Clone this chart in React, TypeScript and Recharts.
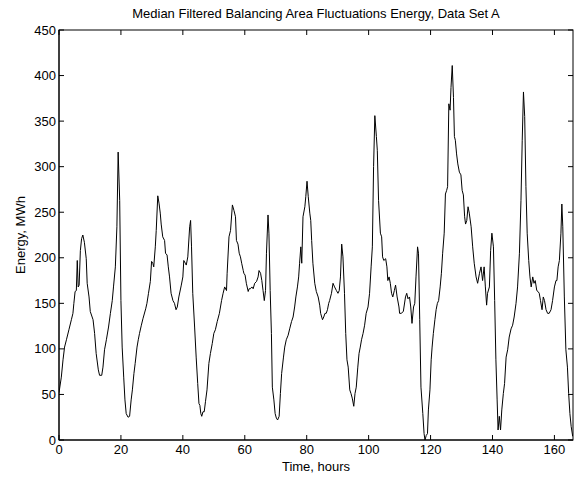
import { LineChart, Line, XAxis, YAxis } from 'recharts';

// hours since start of the record
const HOURS = [
  0.0, 0.75, 1.3, 1.8, 2.4, 3.2, 4.0, 4.5, 4.8, 5.2, 5.6, 5.9, 6.2, 6.5, 6.9, 7.3, 7.7, 8.2, 8.8, 9.1,
  9.7, 10.1, 11.0, 11.5, 12.0, 12.7, 13.1, 13.8, 14.2, 14.7, 15.3, 16.0, 16.6, 17.2, 17.6, 18.2, 18.7, 19.1, 19.6, 20.0,
  20.4, 20.9, 21.3, 21.7, 22.3, 22.8, 23.3, 23.7, 24.2, 24.6, 25.2, 25.6, 26.0, 26.6, 27.1, 28.0, 28.4, 28.9, 29.5, 29.9,
  30.3, 30.6, 31.1, 31.4, 31.9, 32.3, 32.7, 33.0, 33.5, 34.1, 34.4, 34.9, 35.3, 35.7, 36.2, 36.8, 37.3, 37.8, 38.2, 38.7,
  39.5, 40.0, 40.3, 40.8, 41.1, 41.6, 42.2, 42.5, 42.8, 43.2, 43.8, 44.3, 44.8, 45.2, 45.5, 45.8, 46.1, 46.5, 46.9, 47.3,
  47.8, 48.4, 48.9, 49.5, 50.0, 50.5, 51.1, 51.8, 52.5, 53.0, 53.5, 54.1, 54.3, 54.9, 55.4, 56.0, 56.5, 57.0, 57.3, 57.8,
  58.2, 58.6, 59.0, 59.5, 59.7, 60.1, 60.5, 61.1, 61.4, 61.8, 62.3, 62.7, 63.2, 63.8, 64.3, 64.6, 65.1, 65.5, 65.9, 66.3,
  66.7, 67.0, 67.5, 67.8, 68.2, 68.6, 68.9, 69.4, 69.8, 70.2, 70.6, 71.1, 71.5, 71.9, 72.5, 72.9, 73.4, 74.0, 74.5, 75.1,
  75.6, 76.1, 76.5, 77.0, 77.4, 77.7, 78.1, 78.4, 78.8, 79.4, 79.7, 80.1, 80.5, 81.0, 81.3, 81.6, 82.0, 82.6, 83.1, 83.7,
  84.2, 84.5, 85.1, 85.5, 85.9, 86.3, 86.7, 87.1, 87.4, 88.0, 88.5, 89.0, 89.6, 90.1, 90.5, 90.9, 91.3, 91.7, 92.2, 92.6,
  93.0, 93.4, 93.9, 94.3, 94.7, 95.2, 95.6, 96.0, 96.5, 96.9, 97.3, 97.7, 98.2, 98.7, 99.2, 99.8, 100.3, 100.8, 101.2, 101.6,
  102.0, 102.5, 102.8, 103.2, 103.8, 104.2, 104.5, 104.9, 105.5, 105.9, 106.2, 106.6, 107.0, 107.4, 107.8, 108.3, 108.7, 109.2, 109.8, 110.0,
  110.5, 111.2, 111.9, 112.3, 112.7, 113.2, 113.6, 114.0, 114.5, 114.9, 115.3, 115.8, 116.1, 116.5, 116.9, 117.5, 117.9, 118.2, 118.6, 119.0,
  119.3, 119.8, 120.2, 120.5, 120.9, 121.4, 121.8, 122.2, 122.6, 123.1, 123.5, 123.9, 124.4, 124.8, 125.2, 125.5, 125.9, 126.3, 126.6, 127.0,
  127.4, 127.7, 128.0, 128.4, 128.8, 129.3, 129.8, 130.2, 130.6, 131.0, 131.3, 131.7, 132.1, 132.5, 133.1, 133.6, 134.1, 134.7, 135.2, 135.8,
  136.3, 136.8, 137.3, 137.7, 138.1, 138.4, 139.0, 139.4, 139.8, 140.3, 140.7, 141.1, 141.5, 141.8, 142.2, 142.6, 143.0, 143.5, 143.9, 144.4,
  144.9, 145.4, 146.0, 146.5, 147.0, 147.6, 148.1, 148.7, 149.2, 149.6, 150.0, 150.4, 150.8, 151.2, 151.7, 152.1, 152.5, 153.0, 153.4, 153.8,
  154.3, 154.7, 155.1, 155.5, 156.0, 156.4, 156.8, 157.3, 157.8, 158.3, 158.9, 159.4, 160.0, 160.5, 160.8, 161.2, 161.6, 162.1, 162.4, 162.7,
  163.2, 163.7, 164.2, 164.6, 165.0, 165.4, 165.9,
];

// median filtered energy, MWh
const ENERGY = [
  52, 69, 88, 102, 110, 121, 132, 139, 150, 163, 164, 197, 168, 170, 208, 221, 225, 217, 199, 172,
  157, 141, 132, 117, 95, 77, 71, 71, 80, 99, 110, 124, 139, 153, 168, 190, 234, 316, 263, 153,
  102, 69, 44, 29, 25, 26, 44, 55, 73, 84, 102, 110, 117, 126, 133, 144, 150, 161, 174, 196,
  194, 190, 212, 230, 268, 260, 249, 237, 223, 219, 205, 203, 190, 179, 161, 153, 150, 143, 146, 157,
  170, 179, 197, 194, 192, 201, 234, 241, 212, 161, 124, 91, 62, 40, 38, 29, 26, 31, 31, 42,
  55, 84, 95, 106, 117, 121, 130, 139, 153, 161, 168, 164, 183, 223, 230, 258, 252, 245, 219, 215,
  205, 201, 194, 186, 183, 181, 172, 163, 166, 166, 168, 166, 172, 174, 179, 186, 183, 175, 164, 153,
  164, 205, 247, 227, 164, 117, 58, 44, 29, 24, 22, 26, 51, 73, 91, 102, 110, 115, 122, 130,
  135, 146, 157, 168, 179, 194, 212, 194, 245, 256, 267, 284, 267, 249, 241, 219, 194, 172, 163, 157,
  148, 139, 132, 135, 139, 139, 143, 150, 153, 161, 172, 168, 164, 161, 164, 179, 215, 201, 161, 117,
  88, 80, 55, 51, 46, 37, 51, 58, 80, 95, 102, 110, 117, 126, 139, 146, 161, 190, 212, 300,
  356, 333, 318, 263, 227, 223, 201, 197, 199, 190, 175, 179, 172, 161, 157, 164, 170, 157, 146, 139,
  139, 141, 157, 161, 155, 157, 146, 128, 146, 150, 179, 212, 205, 132, 58, 29, 7, 0, 5, 7,
  33, 55, 88, 102, 117, 132, 143, 150, 153, 168, 183, 205, 227, 270, 274, 278, 369, 362, 387, 411,
  376, 333, 329, 314, 303, 294, 291, 274, 269, 245, 237, 241, 256, 249, 234, 212, 194, 179, 172, 183,
  190, 175, 190, 168, 148, 161, 168, 208, 227, 212, 153, 88, 44, 11, 26, 11, 33, 51, 62, 91,
  99, 113, 122, 126, 135, 150, 168, 205, 263, 329, 382, 355, 278, 227, 197, 179, 168, 179, 172, 175,
  164, 163, 161, 153, 143, 157, 153, 143, 139, 139, 143, 153, 168, 175, 175, 190, 197, 227, 259, 234,
  157, 99, 80, 51, 29, 15, 4,
];

const X_TICKS = [0, 20, 40, 60, 80, 100, 120, 140, 160];
const Y_TICKS = [0, 50, 100, 150, 200, 250, 300, 350, 400, 450];
const X_MAX = 166;
const Y_MAX = 450;

// layout
const W = 574;
const H = 480;
const MARGIN = { top: 30, right: 1, bottom: 20, left: 0 };
const Y_AXIS_W = 59;
const X_AXIS_H = 20;
const PLOT_LEFT = MARGIN.left + Y_AXIS_W;
const PLOT_TOP = MARGIN.top;
const PLOT_RIGHT = W - MARGIN.right;
const PLOT_BOTTOM = H - MARGIN.bottom - X_AXIS_H;

const FONT = '"Liberation Sans", Arial, Helvetica, sans-serif';
const TICK_LEN = 5;

const data = HOURS.map((h, i) => ({ hour: h, energy: ENERGY[i] }));

// matlab-style ticks: drawn inside the box on both opposite edges, label outside
function BottomTick({ x, y, payload }: any) {
  return (
    <g>
      <line x1={x} x2={x} y1={y} y2={y - TICK_LEN} stroke="#000" strokeWidth={1} />
      <line x1={x} x2={x} y1={PLOT_TOP} y2={PLOT_TOP + TICK_LEN} stroke="#000" strokeWidth={1} />
      <text x={x} y={y + 14} textAnchor="middle" fontSize={13} fontFamily={FONT} fill="#000">
        {payload.value}
      </text>
    </g>
  );
}

function LeftTick({ x, y, payload }: any) {
  return (
    <g>
      <line x1={x} x2={x + TICK_LEN} y1={y} y2={y} stroke="#000" strokeWidth={1} />
      <line x1={PLOT_RIGHT} x2={PLOT_RIGHT - TICK_LEN} y1={y} y2={y} stroke="#000" strokeWidth={1} />
      <text x={x - 3} y={y + 4.5} textAnchor="end" fontSize={13} fontFamily={FONT} fill="#000">
        {payload.value}
      </text>
    </g>
  );
}

export default function App() {
  return (
    <div style={{ position: 'absolute', left: 0, top: 0, width: W, height: H, background: '#fff' }}>
      <LineChart width={W} height={H} data={data} margin={MARGIN}>
        {/* axes box */}
        <rect
          x={PLOT_LEFT}
          y={PLOT_TOP}
          width={PLOT_RIGHT - PLOT_LEFT}
          height={PLOT_BOTTOM - PLOT_TOP}
          fill="none"
          stroke="#000"
          strokeWidth={1}
        />
        <XAxis
          dataKey="hour"
          type="number"
          domain={[0, X_MAX]}
          ticks={X_TICKS}
          interval={0}
          height={X_AXIS_H}
          tickSize={0}
          tickMargin={0}
          tickLine={false}
          stroke="#000"
          tick={BottomTick}
          allowDataOverflow
        />
        <YAxis
          type="number"
          domain={[0, Y_MAX]}
          ticks={Y_TICKS}
          interval={0}
          width={Y_AXIS_W}
          tickSize={0}
          tickMargin={0}
          tickLine={false}
          stroke="#000"
          tick={LeftTick}
          allowDataOverflow
        />
        <Line
          dataKey="energy"
          type="linear"
          stroke="#000"
          strokeWidth={1}
          dot={false}
          isAnimationActive={false}
        />
        <text x={316} y={18} textAnchor="middle" fontSize={13} fontFamily={FONT} fill="#000">
          Median Filtered Balancing Area Fluctuations Energy, Data Set A
        </text>
        <text x={316} y={471} textAnchor="middle" fontSize={13} fontFamily={FONT} fill="#000">
          Time, hours
        </text>
        <text
          x={25}
          y={235}
          textAnchor="middle"
          fontSize={13}
          fontFamily={FONT}
          fill="#000"
          transform="rotate(-90 25 235)"
        >
          Energy, MWh
        </text>
      </LineChart>
    </div>
  );
}
